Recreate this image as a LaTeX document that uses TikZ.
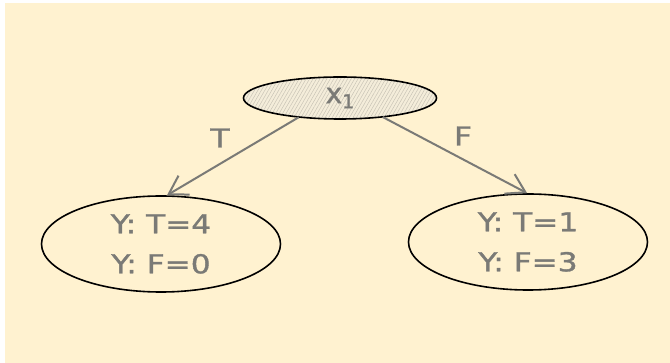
\documentclass[tikz,border=0pt]{standalone}
\usepackage{fontspec}
\usepackage{graphicx}
\setmainfont{DejaVu Sans}
\newfontfamily\handfont[FakeBold=1.2]{DejaVu Sans}
\usetikzlibrary{shapes.geometric,arrows.meta,patterns.meta}
\definecolor{bgcream}{HTML}{FFF2D0}
\definecolor{inkgray}{HTML}{7A7A76}
\definecolor{hatchgray}{HTML}{C9C4B6}
\definecolor{hatchbg}{HTML}{F4EDDA}
\begin{document}
\begin{tikzpicture}[x=1pt,y=-1pt,
  leaf/.style={draw=black, line width=1.6pt, ellipse, minimum width=239pt, minimum height=96pt,
    inner sep=0pt, text=inkgray, align=center, font=\handfont\fontsize{26}{40}\selectfont},
  rootnode/.style={draw=black, line width=1.6pt, ellipse, minimum width=193pt, minimum height=42pt,
    inner sep=0pt, text=inkgray, font=\handfont\fontsize{28}{28}\selectfont,
    preaction={fill=hatchbg},
    pattern={Lines[angle=60,distance=3pt,line width=0.5pt]}, pattern color=hatchgray},
  conn/.style={draw=inkgray, line width=2pt, -{Straight Barb[length=18pt,width=22pt]}},
  lbl/.style={text=inkgray, inner sep=0pt, font=\handfont\fontsize{26}{26}\selectfont}
]
\useasboundingbox (0,0) rectangle (670,363);
\fill[white] (0,0) rectangle (670,363);
\fill[bgcream] (5,3) rectangle (670,363);

\node[rootnode] (root) at (340,98) {x{\fontsize{19}{19}\selectfont\raisebox{-5pt}{1}}};
\node[leaf] (left) at (161,244) {\scalebox{1.2}[1]{Y: T=4}\\\scalebox{1.2}[1]{Y: F=0}};
\node[leaf] (right) at (528,242) {\scalebox{1.2}[1]{Y: T=1}\\\scalebox{1.2}[1]{Y: F=3}};

\draw[conn] (root.205) -- (left.83);
\draw[conn] (root.336) -- (right.91);

\node[lbl] (lblT) at (220,138) {\scalebox{1.2}[1]{T}};
\node[lbl] (lblF) at (463,136) {\scalebox{1.2}[1]{F}};
\end{tikzpicture}
\end{document}
